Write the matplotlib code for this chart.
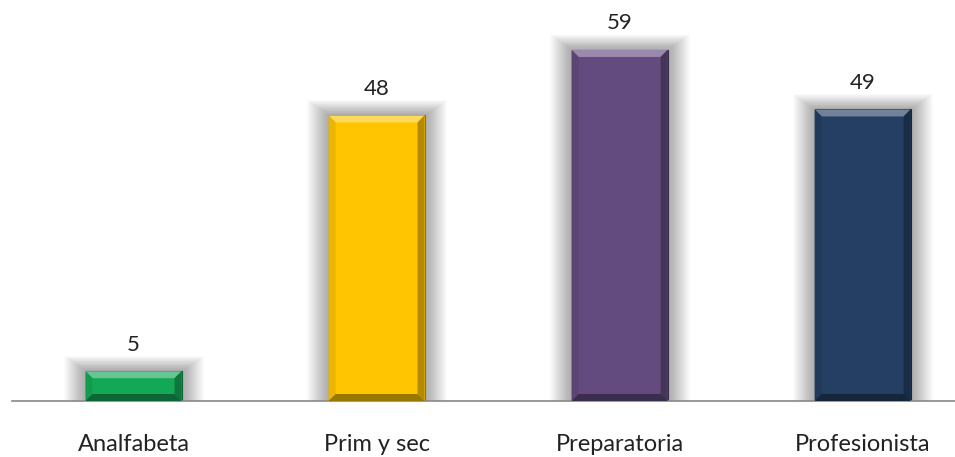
import numpy as np
import matplotlib
matplotlib.use("Agg")
from matplotlib import pyplot as plt
from matplotlib.patches import Polygon, Rectangle

categories = ["Analfabeta", "Prim y sec", "Preparatoria", "Profesionista"]
values = [5, 48, 59, 49]
colors = ["#12a856", "#ffc500", "#634b7f", "#243f63"]

plt.rcParams['font.family'] = ['Lato', 'DejaVu Sans']

fig = plt.figure(figsize=(9.55, 4.57), dpi=100)
ax = fig.add_axes([12/955, 56/457, 943/955, 401/457])

width = 0.395
x = np.arange(len(categories))
ax.set_xlim(-0.5, 3.38)
ax.set_ylim(0, 401/5.95)

# pixel -> data helpers
px_x = 1/243.0
px_y = 1/5.95


def shade(c, f):
    rgb = np.array(matplotlib.colors.to_rgb(c))
    if f > 0:
        rgb = rgb + (1 - rgb) * f
    else:
        rgb = rgb * (1 + f)
    return tuple(np.clip(rgb, 0, 1))


for xi, v, c in zip(x, values, colors):
    l, r = xi - width/2, xi + width/2
    # soft shadow
    for k in range(22, 0, -1):
        ax.add_patch(Rectangle((l - k*px_x, 0), width + 2*k*px_x, v + k*px_y*0.7,
                               facecolor="black", alpha=0.014, lw=0, zorder=1))
    ax.bar(xi, v, width, color=c, zorder=2, edgecolor=shade(c, -0.4), linewidth=0.8)
    b = 7
    bx, by = b*px_x, min(b*px_y, v/2.5)
    # bevel pieces
    ax.add_patch(Polygon([(l, v), (r, v), (r - bx, v - by), (l + bx, v - by)],
                         facecolor=shade(c, 0.35), lw=0, zorder=3))
    ax.add_patch(Polygon([(l, 0), (l, v), (l + bx, v - by), (l + bx, by)],
                         facecolor=shade(c, -0.08), lw=0, zorder=3))
    ax.add_patch(Polygon([(r, 0), (r, v), (r - bx, v - by), (r - bx, by)],
                         facecolor=shade(c, -0.3), lw=0, zorder=3))
    ax.add_patch(Polygon([(l, 0), (r, 0), (r - bx, by), (l + bx, by)],
                         facecolor=shade(c, -0.4), lw=0, zorder=3))
    ax.annotate(str(v), (xi, v), xytext=(0, 12), textcoords="offset points",
                ha="center", va="bottom", fontsize=16, color="#222222")

ax.set_xticks(x)
ax.set_xticklabels(categories, fontsize=17, color="#222222")
ax.tick_params(axis="x", length=0, pad=24)
ax.set_yticks([])
for s in ["top", "right", "left"]:
    ax.spines[s].set_visible(False)
ax.spines["bottom"].set_color("#888888")
ax.spines["bottom"].set_linewidth(1.2)

fig.savefig("out.png", dpi=100)
